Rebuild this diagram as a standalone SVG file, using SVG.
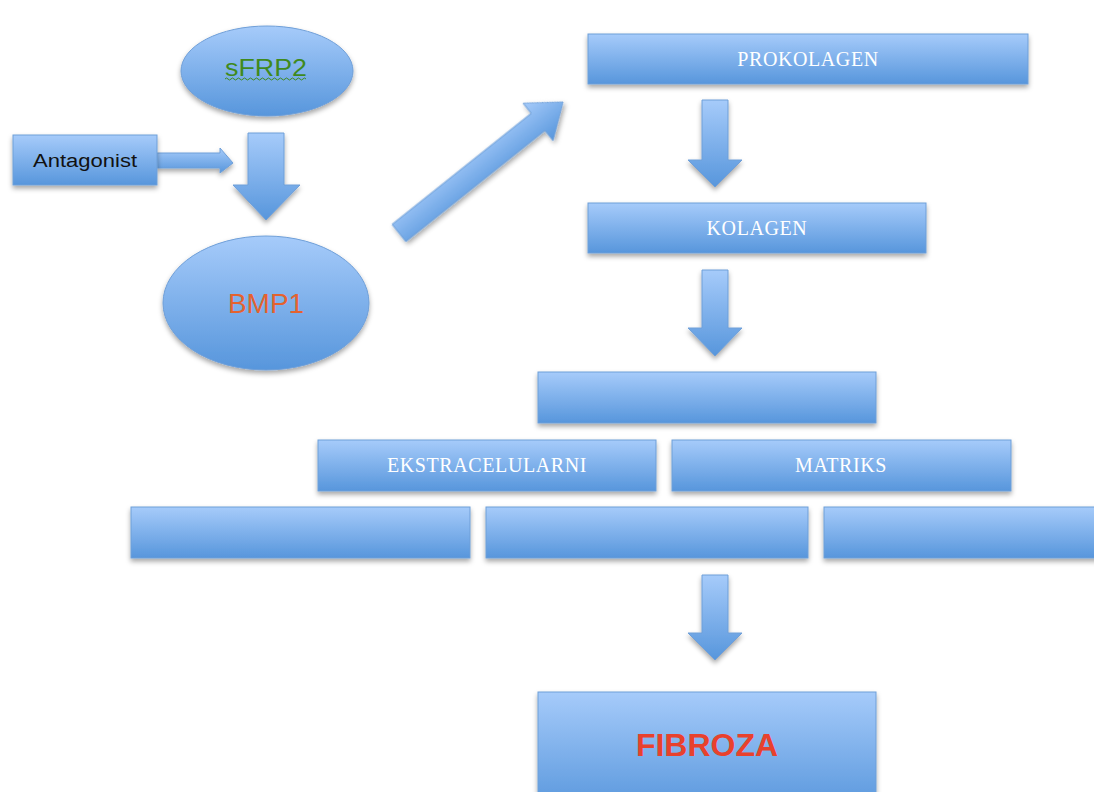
<svg xmlns="http://www.w3.org/2000/svg" width="1094" height="792" viewBox="0 0 1094 792">
<defs>
<linearGradient id="g" x1="0" y1="0" x2="0" y2="1">
<stop offset="0" stop-color="#a6cbfa"/>
<stop offset="1" stop-color="#5796dc"/>
</linearGradient>
<filter id="sh" x="-10%" y="-20%" width="120%" height="150%">
<feDropShadow dx="0" dy="3" stdDeviation="2.5" flood-color="#000" flood-opacity="0.35"/>
</filter>
</defs>
<style>
.box{fill:url(#g);stroke:#6f9fd8;stroke-width:1;filter:url(#sh)}
.arr{fill:url(#g);stroke:#6f9fd8;stroke-width:1;filter:url(#sh)}
.lbl{font-family:"Liberation Serif","DejaVu Serif",serif;font-size:20px;fill:#ffffff;text-anchor:middle;letter-spacing:0.6px}
.sans{font-family:"Liberation Sans",Arial,sans-serif;text-anchor:middle}
</style>
<rect width="1094" height="792" fill="#ffffff"/>
<g id="connectors">
<polygon class="arr" points="157,153 220,153 220,148 233,163 220,173 220,168 157,168"/>
<polygon class="arr" points="248,133 284,133 284,185 300,185 266,220 233,185 248,185"/>
<polygon class="arr" transform="translate(399,233) rotate(-38.6)" points="0,-11 178,-11 178,-24 210,0 178,24 178,11 0,11"/>
<polygon class="arr" points="702,100 728,100 728,160 742,160 715,187 688,160 702,160"/>
<polygon class="arr" points="702,270 728,270 728,328 742,328 715,356 688,328 702,328"/>
<polygon class="arr" points="702,575 728,575 728,633 742,633 715,660 688,633 702,633"/>
</g>
<g id="sfrp2">
<ellipse class="box" cx="267" cy="71" rx="86" ry="45"/>
<text class="sans" x="266" y="76" font-size="23" fill="#3f8a1d" textLength="82" lengthAdjust="spacingAndGlyphs">sFRP2</text>
<path d="M225,79 q1.5,-2 3,0 t3,0 t3,0 t3,0 t3,0 t3,0 t3,0 t3,0 t3,0 t3,0 t3,0 t3,0 t3,0 t3,0 t3,0 t3,0 t3,0 t3,0 t3,0 t3,0 t3,0 t3,0 t3,0 t3,0 t3,0 t3,0 t3,0" fill="none" stroke="#3f8a1d" stroke-width="1"/>
</g>
<g id="antagonist">
<rect class="box" x="13" y="135" width="144" height="50"/>
<text class="sans" x="85" y="167" font-size="18" fill="#111111" textLength="104" lengthAdjust="spacingAndGlyphs">Antagonist</text>
</g>
<g id="bmp1">
<ellipse class="box" cx="266" cy="303" rx="103" ry="67"/>
<text class="sans" x="266" y="313" font-size="28" fill="#e4622f">BMP1</text>
</g>
<g id="prokolagen">
<rect class="box" x="588" y="34" width="440" height="50"/>
<text class="lbl" x="808" y="66">PROKOLAGEN</text>
</g>
<g id="kolagen">
<rect class="box" x="588" y="203" width="338" height="50"/>
<text class="lbl" x="757" y="235">KOLAGEN</text>
</g>
<g id="empty-box">
<rect class="box" x="538" y="372" width="338" height="51"/>
</g>
<g id="ekstracelularni">
<rect class="box" x="318" y="440" width="338" height="51"/>
<text class="lbl" x="487" y="472">EKSTRACELULARNI</text>
</g>
<g id="matriks">
<rect class="box" x="672" y="440" width="339" height="51"/>
<text class="lbl" x="841" y="472">MATRIKS</text>
</g>
<g id="row3-left">
<rect class="box" x="131" y="507" width="339" height="51"/>
</g>
<g id="row3-mid">
<rect class="box" x="486" y="507" width="322" height="51"/>
</g>
<g id="row3-right">
<rect class="box" x="824" y="507" width="290" height="51"/>
</g>
<g id="fibroza">
<rect class="box" x="538" y="692" width="338" height="120"/>
<text class="sans" x="707" y="756" font-size="32" font-weight="bold" fill="#e8412d">FIBROZA</text>
</g>
</svg>
